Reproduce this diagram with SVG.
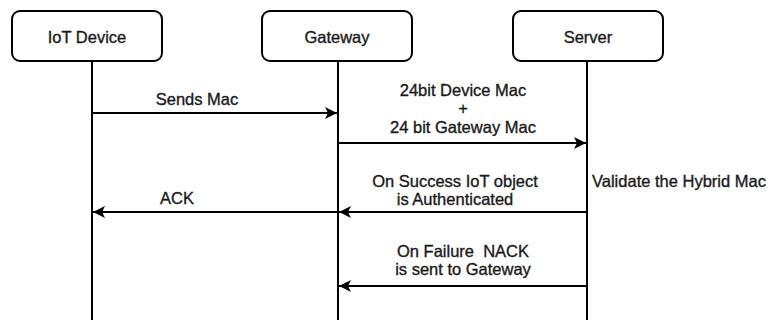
<svg xmlns="http://www.w3.org/2000/svg" width="772" height="320" viewBox="0 0 772 320">
<style>
.box{fill:#fff;stroke:#000;stroke-width:2}
.life{stroke:#000;stroke-width:2;fill:none}
.msg{stroke:#000;stroke-width:2;fill:none;marker-end:url(#arr)}
text{font-family:"Liberation Sans",Arial,sans-serif;font-size:16.5px;fill:#1a1a1a;stroke:#1a1a1a;stroke-width:0.35px}
.c{text-anchor:middle}
</style>
<defs>
<marker id="arr" markerUnits="userSpaceOnUse" markerWidth="14" markerHeight="12" refX="12" refY="6" orient="auto">
<path d="M0,0 L12,6 L0,12 L3,6 Z" fill="#000"/>
</marker>
</defs>
<g id="iot">
<rect class="box" x="12" y="11" width="150" height="50" rx="8"/>
<text class="c" x="87" y="43">IoT Device</text>
</g>
<g id="gateway">
<rect class="box" x="262" y="11" width="150" height="50" rx="8"/>
<text class="c" x="337" y="43">Gateway</text>
</g>
<g id="server">
<rect class="box" x="513" y="11" width="150" height="50" rx="8"/>
<text class="c" x="588" y="43">Server</text>
</g>
<g id="connectors">
<line class="life" x1="92" y1="61" x2="92" y2="320"/>
<line class="life" x1="338" y1="61" x2="338" y2="320"/>
<line class="life" x1="587" y1="61" x2="587" y2="320"/>
<line class="msg" x1="92" y1="113" x2="337" y2="113"/>
<line class="msg" x1="338" y1="143" x2="586" y2="143"/>
<line class="msg" x1="587" y1="212" x2="339" y2="212"/>
<line class="msg" x1="338" y1="212" x2="93" y2="212"/>
<line class="msg" x1="587" y1="286" x2="339" y2="286"/>
</g>
<g id="labels">
<text class="c" x="197" y="105">Sends Mac</text>
<text class="c" x="463" y="96">24bit Device Mac</text>
<text class="c" x="463" y="114">+</text>
<text class="c" x="463" y="133">24 bit Gateway Mac</text>
<text class="c" x="455" y="187">On Success IoT object</text>
<text class="c" x="455" y="205">is Authenticated</text>
<text x="592" y="187">Validate the Hybrid Mac</text>
<text class="c" x="177" y="204">ACK</text>
<text class="c" x="463" y="257" xml:space="preserve" style="white-space:pre">On Failure  NACK</text>
<text class="c" x="463" y="275">is sent to Gateway</text>
</g>
</svg>
